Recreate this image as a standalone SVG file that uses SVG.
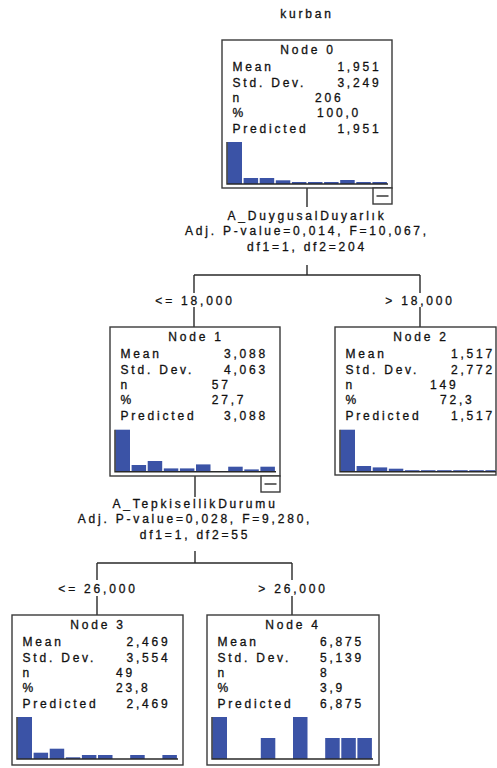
<svg xmlns="http://www.w3.org/2000/svg" width="497" height="768" viewBox="0 0 497 768">
<style>
text { font-family: "Liberation Sans", Arial, sans-serif; font-size: 12px; letter-spacing: 2.8px; fill: #111; stroke: #111; stroke-width: 0.3px; }
.mid { text-anchor: middle; }
.box { fill: #fff; stroke: #3a3a3a; stroke-width: 1.4; }
.bar { fill: #3b53a6; }
.ax { stroke: #2a2a2a; stroke-width: 1.4; fill: none; }
.con { stroke: #2a2a2a; stroke-width: 1.4; fill: none; }
</style>
<rect x="0" y="0" width="497" height="768" fill="#fff"/>
<text class="mid" x="307" y="18">kurban</text>

<g id="connectors">
  <path class="con" d="M307,188 V207 M307,265 V275 M194,275 H420 M194,275 V293 M420,275 V293 M194,307 V327 M420,307 V327"/>
  <path class="con" d="M195,476 V497 M195,551 V563 M97,563 H292 M97,563 V580 M292,563 V580 M97,596 V615 M292,596 V615"/>
</g>

<g id="split-labels">
  <text class="mid" x="307" y="219.5">A_DuygusalDuyarlık</text>
  <text class="mid" x="307" y="235">Adj. P-value=0,014, F=10,067,</text>
  <text class="mid" x="307" y="251">df1=1, df2=204</text>
  <text class="mid" x="195" y="305">&lt;= 18,000</text>
  <text class="mid" x="420" y="305">&gt; 18,000</text>
  <text class="mid" x="195" y="507.5">A_TepkisellikDurumu</text>
  <text class="mid" x="195" y="523">Adj. P-value=0,028, F=9,280,</text>
  <text class="mid" x="195" y="539">df1=1, df2=55</text>
  <text class="mid" x="98" y="593">&lt;= 26,000</text>
  <text class="mid" x="293" y="593">&gt; 26,000</text>
</g>

<g id="node0" transform="translate(222,40)">
  <rect class="box" x="0" y="0" width="170" height="148"/>
  <text class="mid" x="86" y="14">Node 0</text>
  <text x="10.5" y="31">Mean</text><text x="115.4" y="31">1,951</text>
  <text x="10.5" y="47">Std. Dev.</text><text x="115.4" y="47">3,249</text>
  <text x="10.5" y="62">n</text><text x="93" y="62">206</text>
  <text x="10.5" y="77">%</text><text x="95" y="77">100,0</text>
  <text x="10.5" y="93">Predicted</text><text x="115.4" y="93">1,951</text>
  <rect class="bar" x="5.5" y="102" width="14.5" height="42"/>
  <rect class="bar" x="21.6" y="138" width="14.5" height="6"/>
  <rect class="bar" x="37.7" y="138" width="14.5" height="6"/>
  <rect class="bar" x="53.8" y="140.3" width="14.5" height="3.7"/>
  <rect class="bar" x="69.9" y="142" width="14.5" height="2"/>
  <rect class="bar" x="86" y="142" width="14.5" height="2"/>
  <rect class="bar" x="102.1" y="142" width="14.5" height="2"/>
  <rect class="bar" x="118.2" y="140" width="14.5" height="4"/>
  <rect class="bar" x="134.3" y="142" width="14.5" height="2"/>
  <rect class="bar" x="150.4" y="142" width="14.5" height="2"/>
  <path class="ax" d="M5,102 V144 H166"/>
  <rect class="box" x="151" y="148" width="19" height="16"/>
  <path class="ax" d="M154.5,156 H166.5"/>
</g>

<g id="node1" transform="translate(110,327)">
  <rect class="box" x="0" y="0" width="170" height="149"/>
  <text class="mid" x="86" y="14">Node 1</text>
  <text x="10.5" y="31">Mean</text><text x="114" y="31">3,088</text>
  <text x="10.5" y="47">Std. Dev.</text><text x="114" y="47">4,063</text>
  <text x="10.5" y="62">n</text><text x="101.7" y="62">57</text>
  <text x="10.5" y="77">%</text><text x="101.7" y="77">27,7</text>
  <text x="10.5" y="93">Predicted</text><text x="114" y="93">3,088</text>
  <rect class="bar" x="5.5" y="102.7" width="14.5" height="42"/>
  <rect class="bar" x="21.6" y="138" width="14.5" height="6.7"/>
  <rect class="bar" x="37.7" y="134" width="14.5" height="10.7"/>
  <rect class="bar" x="53.8" y="141.4" width="14.5" height="3.3"/>
  <rect class="bar" x="69.9" y="141.4" width="14.5" height="3.3"/>
  <rect class="bar" x="86" y="137.4" width="14.5" height="7.3"/>
  <rect class="bar" x="118.2" y="139.7" width="14.5" height="5"/>
  <rect class="bar" x="134.3" y="142.4" width="14.5" height="2.3"/>
  <rect class="bar" x="150.4" y="139.7" width="14.5" height="5"/>
  <path class="ax" d="M5,102.7 V144.7 H166"/>
  <rect class="box" x="151" y="149" width="19" height="16"/>
  <path class="ax" d="M154.5,157 H166.5"/>
</g>

<g id="node2" transform="translate(335,327)">
  <rect class="box" x="0" y="0" width="161" height="148"/>
  <text class="mid" x="86" y="14">Node 2</text>
  <text x="10.5" y="31">Mean</text><text x="116" y="31">1,517</text>
  <text x="10.5" y="47">Std. Dev.</text><text x="116" y="47">2,772</text>
  <text x="10.5" y="62">n</text><text x="95" y="62">149</text>
  <text x="10.5" y="77">%</text><text x="105" y="77">72,3</text>
  <text x="10.5" y="93">Predicted</text><text x="116" y="93">1,517</text>
  <rect class="bar" x="5.5" y="102.7" width="14.5" height="42"/>
  <rect class="bar" x="21.6" y="139" width="14.5" height="5.7"/>
  <rect class="bar" x="37.7" y="140.4" width="14.5" height="4.3"/>
  <rect class="bar" x="53.8" y="141.7" width="14.5" height="3"/>
  <rect class="bar" x="69.9" y="143.2" width="14.5" height="1.5"/>
  <rect class="bar" x="86" y="143.2" width="14.5" height="1.5"/>
  <rect class="bar" x="102.1" y="143.2" width="14.5" height="1.5"/>
  <rect class="bar" x="118.2" y="143.2" width="14.5" height="1.5"/>
  <rect class="bar" x="134.3" y="143.2" width="14.5" height="1.5"/>
  <rect class="bar" x="150.4" y="143.2" width="10" height="1.5"/>
  <path class="ax" d="M5,102.7 V144.7 H161"/>
</g>

<g id="node3" transform="translate(12,615)">
  <rect class="box" x="0" y="0" width="171" height="150"/>
  <text class="mid" x="86" y="14">Node 3</text>
  <text x="10.5" y="31">Mean</text><text x="114.5" y="31">2,469</text>
  <text x="10.5" y="47">Std. Dev.</text><text x="114.5" y="47">3,554</text>
  <text x="10.5" y="62">n</text><text x="104" y="62">49</text>
  <text x="10.5" y="77">%</text><text x="104" y="77">23,8</text>
  <text x="10.5" y="93">Predicted</text><text x="114.5" y="93">2,469</text>
  <rect class="bar" x="5.5" y="102" width="14.5" height="42"/>
  <rect class="bar" x="21.6" y="137.7" width="14.5" height="6.3"/>
  <rect class="bar" x="37.7" y="133.7" width="14.5" height="10.3"/>
  <rect class="bar" x="53.8" y="142.3" width="14.5" height="1.7"/>
  <rect class="bar" x="69.9" y="140" width="14.5" height="4"/>
  <rect class="bar" x="86" y="140" width="14.5" height="4"/>
  <rect class="bar" x="118.2" y="140" width="14.5" height="4"/>
  <rect class="bar" x="150.4" y="140" width="14.5" height="4"/>
  <path class="ax" d="M5,102 V144 H166"/>
</g>

<g id="node4" transform="translate(207,615)">
  <rect class="box" x="0" y="0" width="172" height="150"/>
  <text class="mid" x="86" y="14">Node 4</text>
  <text x="10.5" y="31">Mean</text><text x="113" y="31">6,875</text>
  <text x="10.5" y="47">Std. Dev.</text><text x="113" y="47">5,139</text>
  <text x="10.5" y="62">n</text><text x="113" y="62">8</text>
  <text x="10.5" y="77">%</text><text x="113" y="77">3,9</text>
  <text x="10.5" y="93">Predicted</text><text x="113" y="93">6,875</text>
  <rect class="bar" x="5.5" y="102" width="14.5" height="42"/>
  <rect class="bar" x="53.8" y="123" width="14.5" height="21"/>
  <rect class="bar" x="86" y="102" width="14.5" height="42"/>
  <rect class="bar" x="118.2" y="123" width="14.5" height="21"/>
  <rect class="bar" x="134.3" y="123" width="14.5" height="21"/>
  <rect class="bar" x="150.4" y="123" width="14.5" height="21"/>
  <path class="ax" d="M5,102 V144 H166"/>
</g>
</svg>
